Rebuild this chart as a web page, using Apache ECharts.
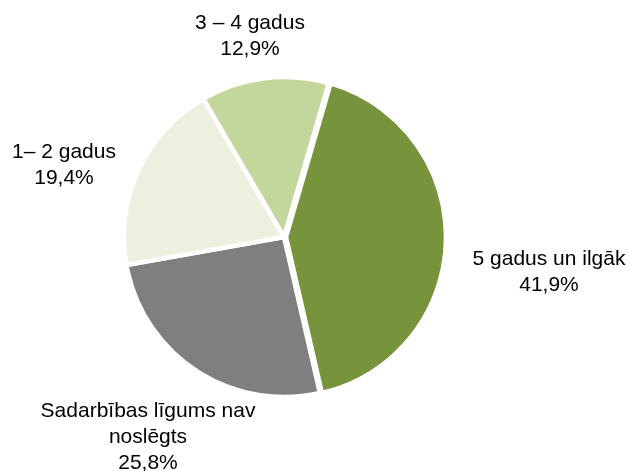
<!DOCTYPE html>
<html>
<head>
<meta charset="utf-8">
<script src="https://cdn.jsdelivr.net/npm/echarts@6/dist/echarts.min.js"></script>
<style>html,body{margin:0;padding:0;background:#fff;}#c{width:630px;height:471px;}</style>
</head>
<body>
<div id="c"></div>
<script>
var categories = ['5 gadus un ilgāk', 'Sadarbības līgums nav\nnoslēgts', '1– 2 gadus', '3 – 4 gadus'];
var values = [41.9, 25.8, 19.4, 12.9];
var valueLabels = ['41,9%', '25,8%', '19,4%', '12,9%'];
var colors = ['#77933c', '#7f7f7f', '#ebf1de', '#c3d69b'];
var labelAnchors = [[549, 272], [148, 437], [64, 165], [250, 36]];

var pieBase = {
  type: 'pie',
  center: [284, 237],
  radius: 160,
  startAngle: 73.8,
  clockwise: true,
  avoidLabelOverlap: false,
  emphasis: { disabled: true }
};

var chart = echarts.init(document.getElementById('c'));
chart.setOption({
  animation: false,
  series: [
    Object.assign({}, pieBase, {
      name: 'slices',
      selectedMode: 'single',
      selectedOffset: 2,
      itemStyle: { borderColor: '#ffffff', borderWidth: 4.5 },
      label: { show: false },
      labelLine: { show: false },
      data: categories.map(function (c, i) {
        return { name: c, value: values[i], selected: i === 0, itemStyle: { color: colors[i] } };
      })
    }),
    Object.assign({}, pieBase, {
      name: 'labels',
      silent: true,
      selectedMode: false,
      itemStyle: { color: 'rgba(0,0,0,0)', borderWidth: 0 },
      label: {
        show: true,
        position: 'outside',
        color: '#000',
        fontFamily: 'Liberation Sans, Arial, sans-serif',
        fontSize: 21,
        lineHeight: 26,
        align: 'center',
        overflow: 'none',
        width: 300,
        formatter: function (p) { return categories[p.dataIndex] + '\n' + valueLabels[p.dataIndex]; }
      },
      labelLine: { show: false },
      labelLayout: function (p) {
        var a = labelAnchors[p.dataIndex];
        return { x: a[0], y: a[1], align: 'center', verticalAlign: 'middle' };
      },
      data: categories.map(function (c, i) {
        return { name: c, value: values[i] };
      })
    })
  ]
});
</script>
</body>
</html>
